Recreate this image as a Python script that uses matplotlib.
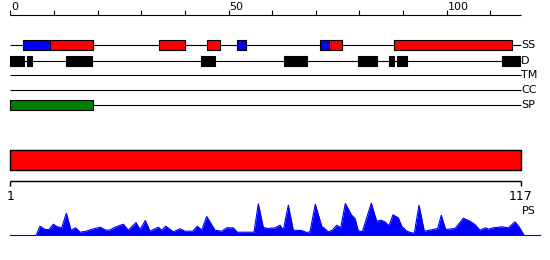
import matplotlib
matplotlib.use("Agg")
import matplotlib.pyplot as plt

# ---------------- data ----------------
seq_len = 117
top_ticks = list(range(0, 111, 10))
top_tick_labels = {0: "0", 50: "50", 100: "100"}

track_names = ["SS", "D", "TM", "CC", "SP"]

ss_helix = [(9, 19), (34, 40), (45, 48), (73, 76), (88, 115)]      # red
ss_strand = [(3, 9), (52, 54), (71, 73)]                              # blue
disorder = [(0, 3.1), (3.8, 4.9), (12.8, 18.8), (43.7, 46.8), (62.7, 68.0),
            (79.7, 84.0), (86.8, 87.9), (88.6, 90.9), (112.6, 116.7)]
signal_peptide = [(0, 19)]

bottom_labels = ["1", "117"]

prof_x = [0, 5.89, 6.80, 7.95, 8.87, 9.85, 10.77, 11.78, 12.83, 13.91, 14.98, 15.97,
          17.11, 18.8, 20.55, 21.92, 22.84, 23.99, 25.89, 27.03, 28.80, 29.71, 30.93,
          32.0, 33.91, 34.68, 35.60, 37.34, 38.88, 40.02, 41.79, 42.84, 43.85, 44.99,
          46.90, 48.43, 49.58, 51.09, 52.01, 55.83, 56.82, 57.96, 59.11, 60.64, 61.79,
          62.54, 63.69, 64.83, 66.76, 67.90, 68.66, 69.87, 71.34, 72.85, 73.77, 74.78,
          75.69, 76.75, 78.21, 78.97, 79.73, 80.64, 82.70, 83.94, 84.92, 85.84, 86.75,
          87.67, 88.89, 89.67, 90.81, 92.55, 93.63, 94.84, 97.91, 98.73, 99.75, 101.88,
          103.78, 105.31, 106.46, 107.61, 108.91, 109.51, 110.65, 112.58, 114.09,
          115.63, 116.54, 117.75, 121.51]
prof_y = [0, 0, 9.3, 6, 6, 11.3, 8.7, 7.7, 22.3, 5.3, 7.7, 3.3,
          4, 6.3, 8.3, 5.3, 5.5, 8.3, 11.3, 5.3, 13, 6, 15,
          4.3, 8.3, 5.3, 9.3, 3.7, 6.7, 4.3, 4.3, 9.3, 5.3, 19,
          5.3, 4.3, 7.7, 7.7, 3.3, 3.3, 31.7, 8, 7, 7.7, 10.3,
          5.3, 30.3, 5.3, 5, 3, 3.7, 31.3, 9.3, 3.7, 5.3, 10.3,
          7.7, 32, 20.3, 17, 4.7, 3.7, 32.3, 14.3, 15.3, 13.7, 9.7,
          20.7, 17.7, 9.3, 4.3, 2, 30.3, 4.3, 7, 20.3, 6, 7,
          17.3, 14.3, 11, 5.3, 7.7, 6.3, 7.7, 8.7, 7.7,
          13.7, 8.7, 0, 0]

# ---------------- layout ----------------
W, H = 550, 260
x0_px, px_per_res = 10.3, 4.365
fig = plt.figure(figsize=(W / 100, H / 100), dpi=100)
ax = fig.add_axes([0, 0, 1, 1])
ax.set_xlim(-x0_px / px_per_res, (W - x0_px) / px_per_res)
ax.set_ylim(H, 0)
ax.axis("off")

FS = 8
LW = 0.8
axis_y = 14.5
track_y = {"SS": 45.3, "D": 60.5, "TM": 75.3, "CC": 90.3, "SP": 105.3}
box_h = 10

# top scale
ax.hlines(axis_y, 0, seq_len, color="black", lw=LW)
ax.vlines(top_ticks, axis_y - 4.5, axis_y, color="black", lw=LW)
for t, lab in top_tick_labels.items():
    ax.text(t + 0.15, 9.6, lab, fontsize=FS, ha="left", va="baseline",
            family="DejaVu Sans")

# tracks
for name in track_names:
    y = track_y[name]
    ax.hlines(y, 0, seq_len, color="black", lw=LW, zorder=1)
    ax.text(seq_len + 0.05, y, name, fontsize=FS, ha="left", va="center",
            family="DejaVu Sans")

def draw(segs, name, color):
    y = track_y[name]
    ax.broken_barh([(s, e - s) for s, e in segs], (y - box_h / 2, box_h),
                   facecolors=color, edgecolors="black", linewidth=LW, zorder=2)

draw(ss_strand, "SS", "#0000ff")
draw(ss_helix, "SS", "#ff0000")
draw(disorder, "D", "black")
draw(signal_peptide, "SP", "#008000")

# bottom bar
ax.broken_barh([(0, seq_len)], (150, 20), facecolors="#ff0000",
               edgecolors="black", linewidth=LW * 1.3)
ax.hlines(180.5, 0, seq_len, color="black", lw=LW * 1.3)
ax.vlines([0, seq_len], 180.5, 186, color="black", lw=LW * 1.3)
ax.text(0, 190, bottom_labels[0], fontsize=FS + 1, ha="center", va="top",
        family="DejaVu Sans")
ax.text(seq_len, 190, bottom_labels[1], fontsize=FS + 1, ha="center", va="top",
        family="DejaVu Sans")
ax.text(seq_len + 0.1, 206, "PS", fontsize=FS, ha="left", va="top",
        family="DejaVu Sans")

# profile
base = 235.5
ax.fill_between(prof_x, [base] * len(prof_y), [base - v for v in prof_y],
                color="#0000ff", lw=0)
ax.plot(prof_x, [base - v for v in prof_y], color="#0000ff", lw=0.8)

fig.savefig("out.png", dpi=100)
